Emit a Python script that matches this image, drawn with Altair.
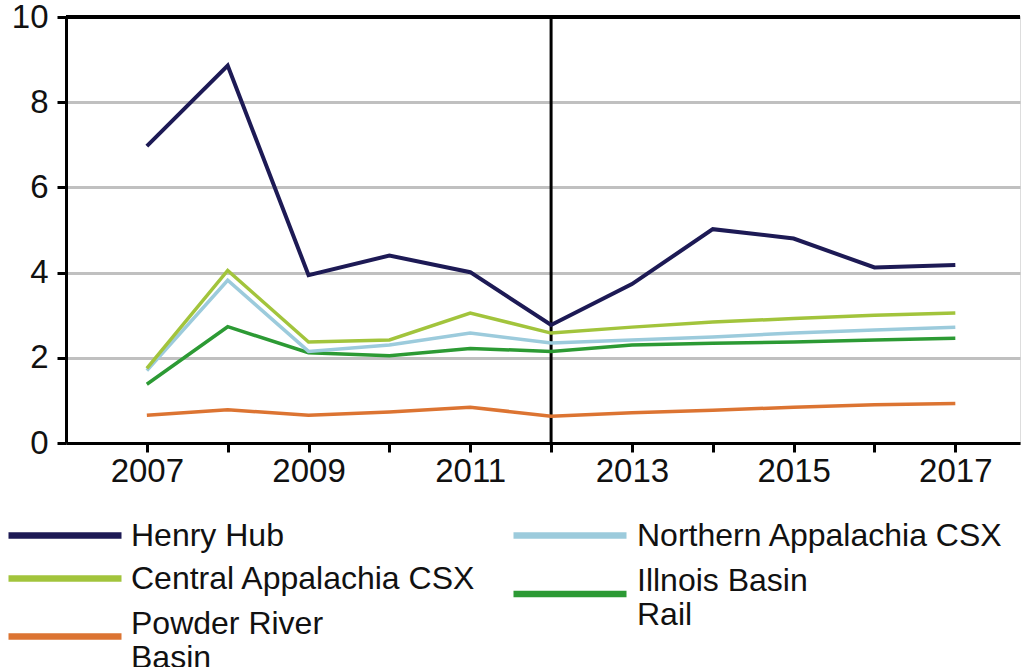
import altair as alt
import pandas as pd

years = list(range(2007, 2018))
series_names = ["Henry Hub", "Northern Appalachia CSX", "Central Appalachia CSX",
                "Illnois Basin Rail", "Powder River Basin"]
henry_hub = [6.97, 8.86, 3.94, 4.40, 4.01, 2.77, 3.73, 5.02, 4.80, 4.12, 4.18]
northern_app = [1.70, 3.82, 2.15, 2.30, 2.58, 2.35, 2.42, 2.49, 2.58, 2.65, 2.72]
central_app = [1.75, 4.05, 2.37, 2.42, 3.05, 2.58, 2.72, 2.84, 2.92, 3.00, 3.05]
illinois = [1.38, 2.73, 2.12, 2.05, 2.22, 2.15, 2.30, 2.34, 2.37, 2.42, 2.46]
powder = [0.65, 0.78, 0.65, 0.73, 0.84, 0.63, 0.71, 0.77, 0.84, 0.90, 0.93]
colors = ["#1d1a55", "#9ccbdc", "#a2c43c", "#2c9a34", "#dc7432"]
y_ticks = [0, 2, 4, 6, 8, 10]
divider_year = [2012]

values = [henry_hub, northern_app, central_app, illinois, powder]
rows = []
for name, vals in zip(series_names, values):
    for yr, v in zip(years, vals):
        rows.append({"year": yr, "value": v, "series": name})
df = pd.DataFrame(rows)

FONT = "Liberation Sans"
AX_FS = 33
LG_FS = 32

# legend placement (layout only): legendX, legendY, symbol shape, label offset
legend_layout = {
    "Henry Hub": (-61, 458.5, "stroke", 6),
    "Central Appalachia CSX": (-61, 501.5, "stroke", 6),
    "Powder River Basin": (-61, 547, "M-1,0.22H1", 6),
    "Northern Appalachia CSX": (444, 458.5, "stroke", 7),
    "Illnois Basin Rail": (444, 503.5, "M-1,0.24H1", 7),
}
label_expr = ("datum.label == 'Powder River Basin' ? ['Powder River', 'Basin'] : "
              "datum.label == 'Illnois Basin Rail' ? ['Illnois Basin', 'Rail'] : datum.label")

x_axis = alt.Axis(values=years, labelExpr="datum.value % 2 == 1 ? format(datum.value, 'd') : ''",
                  grid=False, tickSize=9, tickWidth=3, tickColor="black",
                  domainColor="black", domainWidth=3, labelFontSize=AX_FS, labelFont=FONT,
                  labelColor="#111111", labelPadding=3, title=None)
y_axis = alt.Axis(values=y_ticks, grid=True, gridColor="#c0c0c0", gridWidth=3,
                  tickSize=9, tickWidth=3, tickColor="black", domainColor="black",
                  domainWidth=3, labelFontSize=AX_FS, labelFont=FONT, labelColor="#111111",
                  labelPadding=9, title=None)

x_scale = alt.Scale(domain=[2006, 2017.8], nice=False, zero=False)
y_scale = alt.Scale(domain=[0, 10], nice=False)


def series_layer(name):
    lx, ly, shape, loff = legend_layout[name]
    color = colors[series_names.index(name)]
    width = 4 if name == "Henry Hub" else 3.5
    return alt.Chart(df).transform_filter(alt.datum.series == name).mark_line(strokeWidth=width).encode(
        x=alt.X("year:Q", scale=x_scale, axis=x_axis),
        y=alt.Y("value:Q", scale=y_scale, axis=y_axis),
        color=alt.Color("series:N", scale=alt.Scale(domain=[name], range=[color]),
                        legend=alt.Legend(
                            orient="none", legendX=lx, legendY=ly,
                            symbolType=shape, symbolSize=12769, symbolStrokeWidth=6.5,
                            labelFontSize=LG_FS, labelFont=FONT, labelColor="#111111",
                            labelLimit=2000, labelOffset=loff, padding=0, title=None,
                            labelExpr=label_expr,
                        )),
    )


vrule = alt.Chart(pd.DataFrame({"x": divider_year})).mark_rule(color="black", strokeWidth=3).encode(
    x=alt.X("x:Q", scale=x_scale, axis=x_axis)
)
top_rule = alt.Chart(pd.DataFrame({"y": [10]})).mark_rule(color="black", strokeWidth=4).encode(
    y=alt.Y("y:Q", scale=y_scale, axis=y_axis)
)

draw_order = ["Powder River Basin", "Illnois Basin Rail", "Northern Appalachia CSX",
              "Central Appalachia CSX", "Henry Hub"]
layers = [vrule, top_rule] + [series_layer(n) for n in draw_order]

chart = alt.layer(*layers).resolve_scale(color="independent").properties(
    width=954, height=426,
    autosize=alt.AutoSizeParams(type="none"),
    padding={"left": 66, "top": 17, "right": 2, "bottom": 224},
).configure_view(stroke=None).configure(background="white")

chart.save("out.html", embed_options={"renderer": "svg", "actions": False})
